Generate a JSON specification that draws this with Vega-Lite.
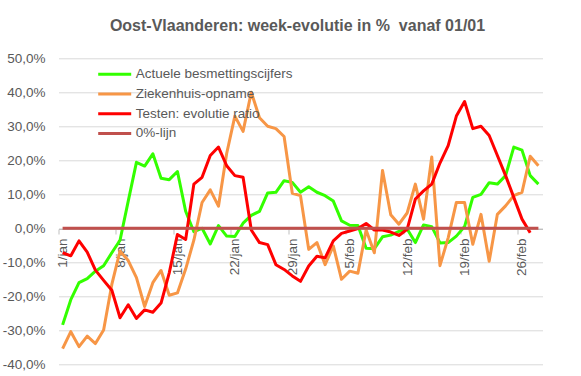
{
  "$schema": "https://vega.github.io/schema/vega-lite/v6.json",
  "width": 484,
  "height": 306,
  "autosize": {"type": "none"},
  "padding": {"left": 58.5, "top": 58.3, "right": 38.5, "bottom": 11.7},
  "background": "white",
  "config": {
    "locale": {"number": {"decimal": ",", "thousands": ".", "grouping": [3], "currency": ["€", ""], "minus": "-"}},
    "view": {"stroke": null},
    "font": "Liberation Sans"
  },
  "title": {
    "text": "Oost-Vlaanderen: week-evolutie in %\u00a0 vanaf 01/01",
    "font": "Liberation Sans",
    "fontSize": 16,
    "fontWeight": "bold",
    "color": "#595959",
    "anchor": "middle",
    "offset": 17,
    "dx": -3
  },
  "data": {
    "values": [
      {"datum": "2021-01-01", "Actuele besmettingscijfers": -0.284, "Ziekenhuis-opname": -0.354, "Testen: evolutie ratio": -0.072, "0%-lijn": 0},
      {"datum": "2021-01-02", "Actuele besmettingscijfers": -0.21, "Ziekenhuis-opname": -0.304, "Testen: evolutie ratio": -0.081, "0%-lijn": 0},
      {"datum": "2021-01-03", "Actuele besmettingscijfers": -0.16, "Ziekenhuis-opname": -0.348, "Testen: evolutie ratio": -0.037, "0%-lijn": 0},
      {"datum": "2021-01-04", "Actuele besmettingscijfers": -0.148, "Ziekenhuis-opname": -0.317, "Testen: evolutie ratio": -0.07, "0%-lijn": 0},
      {"datum": "2021-01-05", "Actuele besmettingscijfers": -0.126, "Ziekenhuis-opname": -0.339, "Testen: evolutie ratio": -0.123, "0%-lijn": 0},
      {"datum": "2021-01-06", "Actuele besmettingscijfers": -0.11, "Ziekenhuis-opname": -0.299, "Testen: evolutie ratio": -0.153, "0%-lijn": 0},
      {"datum": "2021-01-07", "Actuele besmettingscijfers": -0.072, "Ziekenhuis-opname": -0.165, "Testen: evolutie ratio": -0.182, "0%-lijn": 0},
      {"datum": "2021-01-08", "Actuele besmettingscijfers": -0.035, "Ziekenhuis-opname": -0.067, "Testen: evolutie ratio": -0.263, "0%-lijn": 0},
      {"datum": "2021-01-09", "Actuele besmettingscijfers": 0.08, "Ziekenhuis-opname": -0.095, "Testen: evolutie ratio": -0.225, "0%-lijn": 0},
      {"datum": "2021-01-10", "Actuele besmettingscijfers": 0.194, "Ziekenhuis-opname": -0.145, "Testen: evolutie ratio": -0.265, "0%-lijn": 0},
      {"datum": "2021-01-11", "Actuele besmettingscijfers": 0.183, "Ziekenhuis-opname": -0.23, "Testen: evolutie ratio": -0.24, "0%-lijn": 0},
      {"datum": "2021-01-12", "Actuele besmettingscijfers": 0.219, "Ziekenhuis-opname": -0.16, "Testen: evolutie ratio": -0.247, "0%-lijn": 0},
      {"datum": "2021-01-13", "Actuele besmettingscijfers": 0.147, "Ziekenhuis-opname": -0.124, "Testen: evolutie ratio": -0.22, "0%-lijn": 0},
      {"datum": "2021-01-14", "Actuele besmettingscijfers": 0.143, "Ziekenhuis-opname": -0.197, "Testen: evolutie ratio": -0.131, "0%-lijn": 0},
      {"datum": "2021-01-15", "Actuele besmettingscijfers": 0.167, "Ziekenhuis-opname": -0.19, "Testen: evolutie ratio": -0.018, "0%-lijn": 0},
      {"datum": "2021-01-16", "Actuele besmettingscijfers": 0.05, "Ziekenhuis-opname": -0.12, "Testen: evolutie ratio": -0.033, "0%-lijn": 0},
      {"datum": "2021-01-17", "Actuele besmettingscijfers": -0.01, "Ziekenhuis-opname": -0.035, "Testen: evolutie ratio": 0.13, "0%-lijn": 0},
      {"datum": "2021-01-18", "Actuele besmettingscijfers": 0.0, "Ziekenhuis-opname": 0.076, "Testen: evolutie ratio": 0.15, "0%-lijn": 0},
      {"datum": "2021-01-19", "Actuele besmettingscijfers": -0.046, "Ziekenhuis-opname": 0.113, "Testen: evolutie ratio": 0.214, "0%-lijn": 0},
      {"datum": "2021-01-20", "Actuele besmettingscijfers": 0.008, "Ziekenhuis-opname": 0.065, "Testen: evolutie ratio": 0.239, "0%-lijn": 0},
      {"datum": "2021-01-21", "Actuele besmettingscijfers": -0.023, "Ziekenhuis-opname": 0.22, "Testen: evolutie ratio": 0.184, "0%-lijn": 0},
      {"datum": "2021-01-22", "Actuele besmettingscijfers": -0.024, "Ziekenhuis-opname": 0.33, "Testen: evolutie ratio": 0.155, "0%-lijn": 0},
      {"datum": "2021-01-23", "Actuele besmettingscijfers": 0.015, "Ziekenhuis-opname": 0.285, "Testen: evolutie ratio": 0.15, "0%-lijn": 0},
      {"datum": "2021-01-24", "Actuele besmettingscijfers": 0.038, "Ziekenhuis-opname": 0.40, "Testen: evolutie ratio": -0.005, "0%-lijn": 0},
      {"datum": "2021-01-25", "Actuele besmettingscijfers": 0.05, "Ziekenhuis-opname": 0.325, "Testen: evolutie ratio": -0.042, "0%-lijn": 0},
      {"datum": "2021-01-26", "Actuele besmettingscijfers": 0.104, "Ziekenhuis-opname": 0.30, "Testen: evolutie ratio": -0.048, "0%-lijn": 0},
      {"datum": "2021-01-27", "Actuele besmettingscijfers": 0.106, "Ziekenhuis-opname": 0.293, "Testen: evolutie ratio": -0.107, "0%-lijn": 0},
      {"datum": "2021-01-28", "Actuele besmettingscijfers": 0.14, "Ziekenhuis-opname": 0.27, "Testen: evolutie ratio": -0.121, "0%-lijn": 0},
      {"datum": "2021-01-29", "Actuele besmettingscijfers": 0.135, "Ziekenhuis-opname": 0.103, "Testen: evolutie ratio": -0.14, "0%-lijn": 0},
      {"datum": "2021-01-30", "Actuele besmettingscijfers": 0.106, "Ziekenhuis-opname": 0.096, "Testen: evolutie ratio": -0.156, "0%-lijn": 0},
      {"datum": "2021-01-31", "Actuele besmettingscijfers": 0.122, "Ziekenhuis-opname": -0.062, "Testen: evolutie ratio": -0.111, "0%-lijn": 0},
      {"datum": "2021-02-01", "Actuele besmettingscijfers": 0.106, "Ziekenhuis-opname": -0.042, "Testen: evolutie ratio": -0.082, "0%-lijn": 0},
      {"datum": "2021-02-02", "Actuele besmettingscijfers": 0.096, "Ziekenhuis-opname": -0.107, "Testen: evolutie ratio": -0.087, "0%-lijn": 0},
      {"datum": "2021-02-03", "Actuele besmettingscijfers": 0.08, "Ziekenhuis-opname": -0.052, "Testen: evolutie ratio": -0.037, "0%-lijn": 0},
      {"datum": "2021-02-04", "Actuele besmettingscijfers": 0.022, "Ziekenhuis-opname": -0.15, "Testen: evolutie ratio": -0.015, "0%-lijn": 0},
      {"datum": "2021-02-05", "Actuele besmettingscijfers": 0.009, "Ziekenhuis-opname": -0.126, "Testen: evolutie ratio": -0.008, "0%-lijn": 0},
      {"datum": "2021-02-06", "Actuele besmettingscijfers": 0.008, "Ziekenhuis-opname": -0.132, "Testen: evolutie ratio": -0.001, "0%-lijn": 0},
      {"datum": "2021-02-07", "Actuele besmettingscijfers": -0.059, "Ziekenhuis-opname": -0.005, "Testen: evolutie ratio": 0.014, "0%-lijn": 0},
      {"datum": "2021-02-08", "Actuele besmettingscijfers": -0.06, "Ziekenhuis-opname": -0.072, "Testen: evolutie ratio": -0.005, "0%-lijn": 0},
      {"datum": "2021-02-09", "Actuele besmettingscijfers": -0.025, "Ziekenhuis-opname": 0.17, "Testen: evolutie ratio": -0.005, "0%-lijn": 0},
      {"datum": "2021-02-10", "Actuele besmettingscijfers": -0.02, "Ziekenhuis-opname": 0.04, "Testen: evolutie ratio": -0.011, "0%-lijn": 0},
      {"datum": "2021-02-11", "Actuele besmettingscijfers": -0.009, "Ziekenhuis-opname": 0.012, "Testen: evolutie ratio": -0.021, "0%-lijn": 0},
      {"datum": "2021-02-12", "Actuele besmettingscijfers": -0.002, "Ziekenhuis-opname": 0.045, "Testen: evolutie ratio": -0.003, "0%-lijn": 0},
      {"datum": "2021-02-13", "Actuele besmettingscijfers": -0.042, "Ziekenhuis-opname": 0.13, "Testen: evolutie ratio": 0.086, "0%-lijn": 0},
      {"datum": "2021-02-14", "Actuele besmettingscijfers": 0.01, "Ziekenhuis-opname": 0.027, "Testen: evolutie ratio": 0.11, "0%-lijn": 0},
      {"datum": "2021-02-15", "Actuele besmettingscijfers": 0.005, "Ziekenhuis-opname": 0.21, "Testen: evolutie ratio": 0.13, "0%-lijn": 0},
      {"datum": "2021-02-16", "Actuele besmettingscijfers": -0.043, "Ziekenhuis-opname": -0.11, "Testen: evolutie ratio": 0.192, "0%-lijn": 0},
      {"datum": "2021-02-17", "Actuele besmettingscijfers": -0.042, "Ziekenhuis-opname": -0.028, "Testen: evolutie ratio": 0.243, "0%-lijn": 0},
      {"datum": "2021-02-18", "Actuele besmettingscijfers": -0.023, "Ziekenhuis-opname": 0.076, "Testen: evolutie ratio": 0.33, "0%-lijn": 0},
      {"datum": "2021-02-19", "Actuele besmettingscijfers": 0.005, "Ziekenhuis-opname": 0.076, "Testen: evolutie ratio": 0.373, "0%-lijn": 0},
      {"datum": "2021-02-20", "Actuele besmettingscijfers": 0.091, "Ziekenhuis-opname": -0.047, "Testen: evolutie ratio": 0.293, "0%-lijn": 0},
      {"datum": "2021-02-21", "Actuele besmettingscijfers": 0.10, "Ziekenhuis-opname": 0.041, "Testen: evolutie ratio": 0.30, "0%-lijn": 0},
      {"datum": "2021-02-22", "Actuele besmettingscijfers": 0.134, "Ziekenhuis-opname": -0.097, "Testen: evolutie ratio": 0.273, "0%-lijn": 0},
      {"datum": "2021-02-23", "Actuele besmettingscijfers": 0.13, "Ziekenhuis-opname": 0.041, "Testen: evolutie ratio": 0.214, "0%-lijn": 0},
      {"datum": "2021-02-24", "Actuele besmettingscijfers": 0.155, "Ziekenhuis-opname": 0.066, "Testen: evolutie ratio": 0.155, "0%-lijn": 0},
      {"datum": "2021-02-25", "Actuele besmettingscijfers": 0.239, "Ziekenhuis-opname": 0.096, "Testen: evolutie ratio": 0.091, "0%-lijn": 0},
      {"datum": "2021-02-26", "Actuele besmettingscijfers": 0.23, "Ziekenhuis-opname": 0.106, "Testen: evolutie ratio": 0.027, "0%-lijn": 0},
      {"datum": "2021-02-27", "Actuele besmettingscijfers": 0.155, "Ziekenhuis-opname": 0.212, "Testen: evolutie ratio": -0.013, "0%-lijn": 0},
      {"datum": "2021-02-28", "Actuele besmettingscijfers": 0.13, "Ziekenhuis-opname": 0.184, "Testen: evolutie ratio": null, "0%-lijn": 0}
    ]
  },
  "transform": [
    {"fold": ["Actuele besmettingscijfers", "Ziekenhuis-opname", "Testen: evolutie ratio", "0%-lijn"], "as": ["reeks", "waarde"]}
  ],
  "mark": {"type": "line", "strokeWidth": 3, "strokeJoin": "round", "strokeCap": "butt"},
  "encoding": {
    "x": {
      "field": "datum",
      "type": "temporal",
      "scale": {"type": "utc", "domain": [1609416000000, 1614513600000]},
      "axis": {
        "title": null,
        "offset": -135.3,
        "values": [
          {"year": 2021, "month": 1, "date": 1, "utc": true},
          {"year": 2021, "month": 1, "date": 8, "utc": true},
          {"year": 2021, "month": 1, "date": 15, "utc": true},
          {"year": 2021, "month": 1, "date": 22, "utc": true},
          {"year": 2021, "month": 1, "date": 29, "utc": true},
          {"year": 2021, "month": 2, "date": 5, "utc": true},
          {"year": 2021, "month": 2, "date": 12, "utc": true},
          {"year": 2021, "month": 2, "date": 19, "utc": true},
          {"year": 2021, "month": 2, "date": 26, "utc": true}
        ],
        "labelExpr": "utcdate(datum.value) + '/' + (utcmonth(datum.value) == 0 ? 'jan' : 'feb')",
        "labelAngle": -90,
        "labelFont": "Liberation Sans",
        "labelFontSize": 13.5,
        "labelColor": "#595959",
        "labelPadding": 4,
        "labelFlush": false,
        "labelOverlap": false,
        "tickOffset": -4.1,
        "labelOffset": 4.1,
        "tickSize": 5,
        "tickColor": "#BFBFBF",
        "domain": true,
        "domainColor": "#BFBFBF",
        "grid": false
      }
    },
    "y": {
      "field": "waarde",
      "type": "quantitative",
      "scale": {"domain": [-0.4, 0.5], "nice": false, "zero": false},
      "axis": {
        "title": null,
        "values": [-0.4, -0.3, -0.2, -0.1, 0, 0.1, 0.2, 0.3, 0.4, 0.5],
        "format": ".1%",
        "domain": false,
        "ticks": false,
        "grid": true,
        "gridColor": "#D9D9D9",
        "gridWidth": 1,
        "labelFont": "Liberation Sans",
        "labelFontSize": 13.5,
        "labelColor": "#595959",
        "labelPadding": 13.5
      }
    },
    "color": {
      "field": "reeks",
      "type": "nominal",
      "scale": {
        "domain": ["Actuele besmettingscijfers", "Ziekenhuis-opname", "Testen: evolutie ratio", "0%-lijn"],
        "range": ["#33FF00", "#F79646", "#FF0000", "#C0504D"]
      },
      "legend": {
        "title": null,
        "orient": "none",
        "legendX": 49.2,
        "legendY": 9,
        "symbolType": "M-3,0H3",
        "symbolSize": 121,
        "symbolStrokeWidth": 3,
        "labelFont": "Liberation Sans",
        "labelFontSize": 13.5,
        "labelColor": "#595959",
        "labelOffset": 14,
        "rowPadding": 5.7,
        "labelLimit": 300
      }
    }
  }
}
